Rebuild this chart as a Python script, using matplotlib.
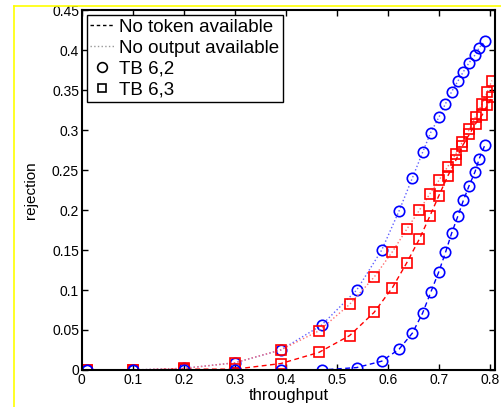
import matplotlib
matplotlib.use('Agg')
import matplotlib.pyplot as plt
from matplotlib.lines import Line2D

plt.rcParams['font.family'] = ['Liberation Sans', 'DejaVu Sans']

# TB 6,2 (blue circles)
x62 = [0.01, 0.1, 0.2, 0.3, 0.39, 0.47, 0.539, 0.588, 0.622, 0.648, 0.668,
       0.684, 0.70, 0.713, 0.725, 0.737, 0.748, 0.759, 0.771, 0.779, 0.79]
tok62 = [0, 0, 0, 0, 0, 0, 0.003, 0.011, 0.026, 0.046, 0.071,
         0.097, 0.123, 0.147, 0.171, 0.192, 0.212, 0.23, 0.248, 0.264, 0.281]
out62 = [0, 0, 0.002, 0.009, 0.025, 0.056, 0.10, 0.15, 0.199, 0.24, 0.272,
         0.297, 0.316, 0.333, 0.348, 0.361, 0.373, 0.384, 0.394, 0.403, 0.411]

# TB 6,3 (red squares)
x63 = [0.01, 0.1, 0.2, 0.3, 0.39, 0.465, 0.525, 0.573, 0.609, 0.637, 0.662,
       0.682, 0.70, 0.717, 0.733, 0.746, 0.76, 0.772, 0.785, 0.795, 0.804]
tok63 = [0, 0, 0.001, 0.001, 0.008, 0.022, 0.043, 0.072, 0.103, 0.134, 0.164,
         0.192, 0.218, 0.242, 0.262, 0.28, 0.295, 0.308, 0.319, 0.331, 0.341]
out63 = [0, 0, 0.002, 0.009, 0.025, 0.049, 0.082, 0.116, 0.148, 0.176, 0.20,
         0.22, 0.237, 0.254, 0.27, 0.285, 0.301, 0.317, 0.333, 0.348, 0.362]

xticks = [0, 0.1, 0.2, 0.3, 0.4, 0.5, 0.6, 0.7, 0.8]
xticklabels = ['0', '0.1', '0.2', '0.3', '0.4', '0.5', '0.6', '0.7', '0.8']
yticks = [0, 0.05, 0.1, 0.15, 0.2, 0.25, 0.3, 0.35, 0.4, 0.45]
yticklabels = ['0', '0.05', '0.1', '0.15', '0.2', '0.25', '0.3', '0.35', '0.4', '0.45']

fig = plt.figure(figsize=(5.02, 4.07), dpi=100)
ax = fig.add_axes([0.163, 0.091, 0.823, 0.884])

dash = (3.5, 2.5)
ax.plot(x62, out62, ':', color='#6060ff', lw=1.0, marker='o', ms=7.5,
        mfc='none', mec='blue', mew=1.2)
ax.plot(x63, out63, ':', color='#ff7070', lw=1.0, marker='s', ms=6.5,
        mfc='none', mec='red', mew=1.2)
ax.plot(x63, tok63, '--', color='red', lw=1.0, dashes=dash, marker='s', ms=6.5,
        mfc='none', mec='red', mew=1.2)
ax.plot(x62, tok62, '--', color='blue', lw=1.0, dashes=dash, marker='o', ms=7.5,
        mfc='none', mec='blue', mew=1.2)

ax.set_xlim(0, 0.81)
ax.set_ylim(0, 0.45)
ax.set_xticks(xticks)
ax.set_xticklabels(xticklabels)
ax.set_yticks(yticks)
ax.set_yticklabels(yticklabels)
ax.tick_params(direction='in', length=4, width=1, top=True, right=True,
               labelsize=10, pad=2)
for s in ax.spines.values():
    s.set_linewidth(1.5)
ax.set_xlabel('throughput', fontsize=12, labelpad=1)
ax.set_ylabel('rejection', fontsize=11, labelpad=10)

handles = [
    Line2D([], [], ls='--', dashes=(2.5, 2), color='black', lw=1),
    Line2D([], [], ls=':', color='#999999', lw=1),
    Line2D([], [], ls='none', marker='o', ms=7, mfc='none', mec='black', mew=1.2),
    Line2D([], [], ls='none', marker='s', ms=6, mfc='none', mec='black', mew=1.2),
]
labels = ['No token available', 'No output available', 'TB 6,2', 'TB 6,3']
leg = ax.legend(handles, labels, loc='upper left', fontsize=13.5, frameon=True,
                fancybox=False, edgecolor='black', framealpha=1,
                handlelength=1.3, handletextpad=0.25, borderpad=0.2,
                labelspacing=0.2, borderaxespad=0.25)
leg.get_frame().set_linewidth(1.0)

# yellow frame at top and left
fig.add_artist(Line2D([14 / 502, 1], [1 - 6 / 407, 1 - 6 / 407], color='yellow', lw=1.2))
fig.add_artist(Line2D([14 / 502, 14 / 502], [0, 1 - 6 / 407], color='yellow', lw=1.2))

fig.savefig('out.png', dpi=100)
